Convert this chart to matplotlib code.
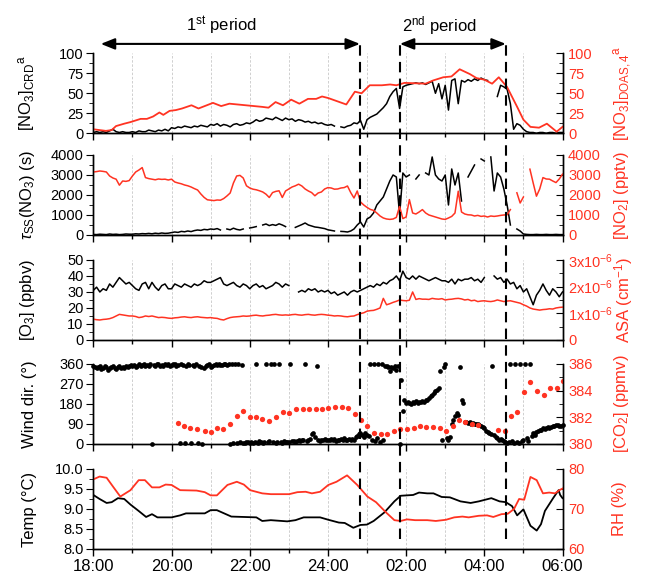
import numpy as np
import matplotlib
matplotlib.use('Agg')
import matplotlib.pyplot as plt
from matplotlib.ticker import MultipleLocator
from matplotlib.transforms import blended_transform_factory
from matplotlib.lines import Line2D

plt.rcParams['font.family'] = ['Liberation Sans', 'DejaVu Sans']
plt.rcParams['mathtext.fontset'] = 'custom'
plt.rcParams['mathtext.rm'] = 'Liberation Sans'
plt.rcParams['mathtext.it'] = 'Liberation Sans:italic'
plt.rcParams['axes.linewidth'] = 1.0

RED = '#ff3322'
nan = np.nan

# hours after 18:00, 5-min resolution series
no3_crd = [1, 2, 1, 2, 1, 3, 5, 2, 1, 2, 1, 1,
           2, 1, 3, 2, 2, 4, 3, 2, 4, 3, 5, 3,
           7, 6, 8, 7, 9, 8, 7, 9, 8, 10, 9, 8,
           11, 10, 12, 9, 11, 10, 8, 11, 12, 10, 11, 13,
           12, 14, 17, 15, 16, 19, 18, 17, 20, 18, 16, 19,
           17, 18, 15, 17, 16, 14, 15, 13, 14, 12, 13, 11,
           10, 11, 9, nan, 8, 7, 9, 10, 13, 12, 16, 5,
           17, 20, 22, 24, 28, 32, 37, 46, 52, 56, 31, 58,
           60, 61, 62, 63, 62, 63, 61, 63, 65, 50, 62, 43,
           60, 29, 66, 68, 37, 66, 64, 67, 65, 68, 66, 69,
           67, 66, nan, nan, 46, 60, 58, 55, 37, 5, 12, 10,
           5, 2, 1, 1, 0, 1, 1, 0, 1, 1, 0, 1, 1]

tau_no3 = [30, 20, 40, 30, 20, 50, 30, 40, 20, 30, 50, 40,
           40, 60, 50, 70, 60, 80, 60, 90, 70, 100, 80, 90,
           120, 150, 130, 180, 160, 200, 170, 220, 250, 230, 280, 260,
           300, 280, 320, 250, nan, 300, 260, 340, 280, 250, 300, nan,
           350, 380, 420, nan, 500, 550, 470, 520, 480, 560, 500, 420,
           nan, nan, 380, 450, 520, 600, 500, 450, 400, 380, 350, 320,
           260, 230, 200, nan, 180, 170, 150, 200, 300, 500, 650, 400,
           800, 900, 1100, 1500, 1700, 1900, 2300, 2700, 3000, 2900, 1000, 3100,
           2900, 3000, nan, 2800, 3000, nan, 3100, 3000, 3900, 3000, 2800, 2700,
           3000, 1500, 3300, 2500, 3100, 1700, nan, 2900, 3200, 3500, nan, 3800,
           3700, nan, 3900, 2200, 3100, 2900, 2300, 1500, 500, nan, 300, 200,
           50, 30, 20, 20, 30, 20, 20, 30, 20, 20, 30, 20, 20]

no2 = [3150, 3170, 3200, 3180, 3150, 2950, 2850, 2790, 2490, 2700, 2680, 2720,
       2950, 3150, 3250, 3370, 2870, 2820, 2790, 2760, 2800, 2780, 2790, 2750,
       2790, 2650, 2600, 2560, 2500, 2460, 2400, 2320, 2250, 2050, 1880, 1760,
       1740, 1720, 1750, 1740, 1820, 1950, 2100, 2600, 2950, 2980, 2850, 2460,
       2350, 2290, 2260, 2210, 2150, 2040, 1875, 2120, 2180, 2210, 1875, 2200,
       2300, 2400, 2460, 2540, 2450, 2300, 2200, 2120, 1960, 2100, 2150, 2300,
       2370, 2350, 2290, 2300, 2350, 2370, 2450, 2120, 1850, 2200, 1650, 1500,
       1380, 1280, 1230, 1100, 950, 850, 800, 780, 800, 880, 1430, 820,
       900, 1770, 1100, 1050, 1150, 1270, 1100, 1000, 950, 900, 850, 800,
       780, 850, 930, 1100, 2190, 1150, 1050, 1010, 1000, 950, 980, 930,
       950, 900, 950, 930, 950, 980, 1000, 1010, 1270, nan, 2110, 1600,
       1900, nan, 3290, 2600, 1940, 2300, 2870, 2800, 2790, 2700, 2620, 2800, 3040]

o3 = [31, 33, 30, 32, 31, 35, 33, 36, 39, 37, 35, 36,
      34, 32, 31, 35, 36, 32, 36, 33, 31, 34, 35, 32,
      32, 35, 34, 33, 35, 34, 33, 35, 34, 35, 37, 36,
      36, 37, 38, 39, 35, 34, 35, 36, 34, 33, 35, 34,
      32, 34, 35, 33, 34, 32, 33, 34, 36, 35, 33, 35,
      34, nan, nan, 30, 31, 30, 32, 31, 32, 30, 31, 30,
      31, 29, 30, 28, 29, 30, 28, 30, 31, 30, 31, 32,
      33, 34, 33, 35, 34, 36, 35, 37, 38, 40, 37, 43,
      39, 38, 40, 38, 40, 39, 38, 37, 38, 39, 38, 37,
      37, 36, 38, 35, 38, 37, 38, 38, 39, 37, 38, 36,
      39, nan, nan, 40, 38, 39, 36, 38, 35, 36, 32, 34,
      30, 32, 27, 22, 28, 31, 35, 31, 28, 32, 30, 27, 30]

# aerosol surface area, units of 1e-6 cm-1
asa = [0.78, 0.76, 0.75, 0.77, 0.78, 0.80, 0.84, 0.90, 0.96, 0.94, 0.92, 0.90,
       0.90, 0.88, 0.84, 0.86, 0.90, 0.88, 0.90, 0.87, 0.84, 0.85, 0.84, 0.82,
       0.81, 0.83, 0.84, 0.86, 0.87, 0.85, 0.84, 0.86, 0.87, 0.85, 0.84, 0.83,
       0.84, 0.82, 0.81, 0.77, 0.75, 0.80, 0.84, 0.86, 0.87, 0.88, 0.90, 0.89,
       0.90, 0.92, 0.93, 0.91, 0.90, 0.92, 0.93, 0.95, 0.96, 0.94, 0.93, 0.94,
       0.93, 0.95, 0.96, 0.94, 0.93, 0.95, 0.96, 0.94, 0.93, 0.95, 0.96, 0.95,
       0.93, 0.92, 0.90, 0.91, 0.90, 0.88, 0.87, 0.89, 0.90, 0.95, 0.99, 1.02,
       1.08, 1.10, 1.11, 1.15, 1.20, 1.56, 1.32, 1.36, 1.41, 1.45, 1.50, 1.48,
       1.47, 1.49, 1.80, 1.52, 1.55, 1.53, 1.53, 1.52, 1.56, 1.54, 1.53, 1.55,
       1.50, 1.52, 1.53, 1.55, 1.56, 1.54, 1.50, 1.52, 1.47, 1.49, 1.44, 1.46,
       1.47, 1.45, 1.44, 1.46, 1.50, 1.47, 1.44, 1.46, 1.47, 1.44, 1.41, 1.38,
       1.32, 1.27, 1.20, 1.16, 1.14, 1.12, 1.14, 1.15, 1.17, 1.16, 1.20, 1.22, 1.23]

# wind direction, 2.5-min resolution
wind_dir = [350, 345, 340, 348, 352, 338, 342, 350, 345, 335, 340, 347, 352, 343, 338, 345, 350, 342, 347, 340, 352, 345, 349, 355,
            350, 355, 348, 352, 358, 350, 355, 360, 352, 356, 350, 358, 0, 355, 352, 358, 360, 353, 356, 350, 358, 355, 360, 352,
            355, 358, 360, 352, 356, 5, 358, 355, 3, 352, 360, 356, 6, 355, 352, 358, 4, 350, 345, 2, 340, 350, 355, 358,
            348, 352, 356, 358, 355, 360, 357, 354, 358, 360, 356, 358, 2, 360, 5, 358, 3, 360, 8, 355, 6, 4, 10, 7,
            5, 8, 4, 10, 360, 6, 12, 8, 5, 10, 360, 7, 12, 358, 9, 360, 6, 11, 360, 8, 5, 12, 10, 7,
            10, 360, 12, 15, 9, 14, 18, 13, 20, 16, 360, 12, 18, 22, 45, 50, 30, 350, 18, 14, 20, 16, 22, 18,
            20, 16, 22, 18, 24, 15, 20, 17, 23, 19, 25, 18, 20, 22, 16, 24, 20, 30, 36, 45, 50, 40, 33, 48,
            41, 36, 360, 20, 360, 15, 26, 360, 11, 360, 18, 350, 352, 345, 330, 348, 340, 352, 335, 350, 2, 290, 150, 200,
            185, 190, 185, 180, 188, 185, 192, 183, 187, 190, 195, 190, 198, 200, 205, 216, 222, 230, 238, 245, 254, 330, 20, 345,
            360, 25, 18, 30, 90, 110, 125, 140, 130, 345, 200, 185, 100, 97, 95, 100, 92, 95, 90, 88, 92, 87, 80, 75,
            70, 60, 56, 50, 45, 352, 40, 30, 25, 20, 22, 18, 15, 10, 5, 8, 360, 12, 3, 360, 10, 6, 360, 15,
            20, 360, 26, 12, 360, 35, 48, 40, 56, 60, 65, 62, 70, 68, 72, 75, 70, 78, 82, 80, 85, 87, 83, 80, 85]

no3_doas_hours = [0.00, 0.32, 0.47, 0.58, 0.79, 0.95, 1.21, 1.37, 1.53, 1.69,
                  1.79, 1.95, 2.11, 2.27, 2.51, 2.69, 3.06, 3.27, 3.48, 3.90,
                  4.32, 4.48, 4.66, 4.85, 5.06, 5.27, 5.49, 5.70, 5.85, 6.01,
                  6.47, 6.69, 6.86, 7.07, 7.38, 7.59, 7.75, 7.96, 8.50, 8.69,
                  8.95, 9.16, 9.37, 9.63, 9.80, 10.00, 10.20, 10.37, 10.58, 10.84,
                  11.00, 11.18, 11.40, 11.60, 11.85, 12.00]
no3_doas = [5, 3, 4, 9, 12, 14, 18, 18, 21, 26,
            23, 28, 29, 31, 35, 31, 38, 34, 37, 35,
            33, 32, 39, 35, 42, 37, 43, 43, 46, 44,
            36, 52, 50, 60, 60, 61, 60, 63, 62, 66,
            70, 71, 80, 74, 69, 67, 62, 70, 58, 33,
            17, 8, 7, 12, 2, 8]

co2_hours = [2.16, 2.32, 2.48, 2.64, 2.85, 3.01, 3.16, 3.32, 3.50, 3.67,
             3.84, 4.01, 4.17, 4.32, 4.50, 4.67, 4.85, 5.01, 5.19, 5.36,
             5.52, 5.70, 5.85, 6.01, 6.18, 6.35, 6.52, 6.68, 6.85, 7.01,
             7.18, 7.35, 7.52, 7.68, 7.85, 8.02, 8.19, 8.35, 8.52, 8.69,
             8.86, 9.03, 9.19, 9.35, 9.51, 9.68, 9.85, 10.36, 10.52, 10.69,
             10.84, 11.01, 11.18, 11.35, 11.52, 11.69, 11.86, 12.00]
co2 = [381.56, 381.36, 381.23, 381.11, 381.01, 380.89, 381.19, 381.11, 381.48, 382.10,
       382.49, 382.05, 382.00, 381.85, 381.73, 382.00, 382.37, 382.30, 382.62, 382.62,
       382.62, 382.62, 382.62, 382.72, 382.81, 382.79, 382.72, 382.22, 381.80, 381.36,
       380.81, 380.74, 380.74, 381.01, 381.11, 381.15, 381.19, 381.35, 381.31, 381.26,
       381.23, 381.00, 381.38, 381.80, 381.68, 381.48, 381.40, 381.05, 381.00, 382.12,
       382.42, 383.90, 384.62, 384.00, 383.65, 384.18, 384.18, 384.75]

temp_hours = [0.00, 0.16, 0.34, 0.47, 0.63, 0.79, 0.95, 1.16, 1.35, 1.50,
              1.64, 2.00, 2.22, 2.37, 2.85, 3.00, 3.16, 3.53, 4.17, 4.32,
              4.54, 4.96, 5.17, 5.38, 5.80, 6.01, 6.28, 6.43, 6.65, 6.83,
              7.00, 7.17, 7.44, 7.70, 7.86, 8.02, 8.18, 8.33, 8.54, 8.70,
              8.91, 9.12, 9.39, 9.65, 9.86, 10.18, 10.39, 10.55, 10.71, 10.84,
              11.00, 11.18, 11.34, 11.45, 11.55, 11.76, 11.90, 11.94, 12.00]
temp = [9.35, 9.25, 9.15, 9.17, 9.27, 9.25, 9.11, 8.95, 8.80, 8.87,
        8.79, 8.79, 8.84, 8.89, 8.89, 8.97, 8.97, 8.81, 8.79, 8.70,
        8.72, 8.69, 8.72, 8.79, 8.79, 8.73, 8.66, 8.65, 8.53, 8.60,
        8.61, 8.70, 8.91, 9.19, 9.33, 9.34, 9.35, 9.41, 9.39, 9.39,
        9.30, 9.29, 9.19, 9.15, 9.19, 9.27, 9.19, 9.17, 9.07, 8.84,
        8.99, 8.58, 8.46, 8.62, 8.95, 9.27, 9.47, 9.35, 9.27]

rh_hours = [0.00, 0.16, 0.34, 0.51, 0.69, 0.95, 1.16, 1.32, 1.50, 1.69,
            1.85, 2.00, 2.22, 2.64, 2.85, 3.00, 3.16, 3.43, 3.67, 3.85,
            4.01, 4.32, 4.54, 5.01, 5.22, 5.43, 5.59, 5.80, 6.01, 6.22,
            6.49, 6.75, 7.01, 7.23, 7.49, 7.70, 7.86, 8.02, 8.23, 8.54,
            8.76, 9.02, 9.23, 9.44, 9.60, 9.86, 10.07, 10.23, 10.44, 10.60,
            10.76, 10.89, 11.02, 11.18, 11.34, 11.50, 11.66, 11.81, 11.92, 12.00]
rh = [77.4, 78.1, 77.8, 75.5, 73.1, 74.7, 77.2, 77.2, 75.4, 75.4,
      76.1, 76.0, 74.7, 74.6, 74.2, 73.4, 73.4, 76.0, 76.8, 76.1,
      74.7, 73.9, 73.7, 73.7, 74.2, 74.3, 73.9, 74.3, 76.0, 76.8,
      78.4, 76.0, 73.1, 71.7, 69.1, 67.2, 67.0, 67.4, 67.2, 67.2,
      67.0, 67.3, 67.9, 68.1, 67.9, 68.3, 68.4, 68.0, 68.7, 68.8,
      70.0, 72.5, 72.3, 78.0, 77.2, 73.9, 74.1, 73.9, 74.7, 75.1]

x_tick_labels = ['18:00', '20:00', '22:00', '24:00', '02:00', '04:00', '06:00']
period_marks = [6.82, 7.84, 10.55]   # 24:49, 01:50, 04:33

t5 = np.arange(len(no3_crd)) / 12.0
t_wind = np.arange(len(wind_dir)) / 24.0

fig = plt.figure(figsize=(6.45, 5.74), dpi=100)
left, width, height = 0.1447, 0.7274, 0.1394
bottoms = [0.7678, 0.5906, 0.4077, 0.2265, 0.0436]
pairs = []
for b in bottoms:
    ax = fig.add_axes([left, b, width, height])
    axr = ax.twinx()
    pairs.append((ax, axr))

for k, (ax, axr) in enumerate(pairs):
    ax.set_xlim(0, 12)
    ax.xaxis.set_major_locator(MultipleLocator(2))
    ax.xaxis.set_minor_locator(MultipleLocator(1))
    ax.xaxis.grid(True, which='both', color='#c8c8c8', lw=0.6, ls=(0, (3, 2)))
    for a in (ax, axr):
        a.spines['top'].set_visible(False)
    ax.tick_params(axis='x', which='major', direction='out', length=5, width=1)
    ax.tick_params(axis='x', which='minor', direction='out', length=3, width=1)
    ax.tick_params(axis='y', which='major', direction='out', length=5, labelsize=10.5, pad=2)
    ax.tick_params(axis='y', which='minor', direction='out', length=3)
    axr.tick_params(axis='y', which='major', direction='in', length=5, labelsize=10.5,
                    labelcolor=RED, pad=4)
    axr.tick_params(axis='y', which='minor', direction='in', length=3)
    if k < 4:
        ax.set_xticklabels([])
    else:
        ax.set_xticks(range(0, 13, 2), x_tick_labels)
        ax.tick_params(axis='x', labelsize=12, pad=2)
    ax.yaxis.set_label_coords(-0.12, 0.5)
    axr.yaxis.set_label_coords(1.105, 0.5)

# panel 1: NO3
ax, axr = pairs[0]
ax.plot(t5, no3_crd, color='k', lw=1.1)
axr.plot(no3_doas_hours, no3_doas, color=RED, lw=1.3)
for a in (ax, axr):
    a.set_ylim(0, 100)
    a.yaxis.set_major_locator(MultipleLocator(25))
    a.yaxis.set_minor_locator(MultipleLocator(12.5))
ax.set_ylabel(r'[NO$_3$]$_{\mathrm{CRD}}$$^{\mathrm{a}}$', fontsize=12)
axr.set_ylabel(r'[NO$_3$]$_{\mathrm{DOAS,4}}$$^{\mathrm{a}}$', fontsize=12, color=RED)

# period arrows and labels
for x0, x1, xt, txt in [(0.19, period_marks[0], 3.27, r'1$^{\mathrm{st}}$ period'),
                        (period_marks[1], period_marks[2], 8.86, r'2$^{\mathrm{nd}}$ period')]:
    ax.annotate('', xy=(x1, 111.7), xytext=(x0, 111.7), annotation_clip=False,
                arrowprops=dict(arrowstyle='<|-|>,head_length=0.7,head_width=0.28',
                                color='k', lw=1.5, shrinkA=0, shrinkB=0, mutation_scale=12))
    ax.text(xt, 135, txt, ha='center', va='center', fontsize=12, clip_on=False)

# panel 2: tau and NO2
ax, axr = pairs[1]
ax.plot(t5, tau_no3, color='k', lw=1.1)
axr.plot(t5, no2, color=RED, lw=1.1)
for a in (ax, axr):
    a.set_ylim(0, 4000)
    a.yaxis.set_major_locator(MultipleLocator(1000))
    a.yaxis.set_minor_locator(MultipleLocator(500))
ax.set_ylabel(r'$\tau_{\mathrm{SS}}$(NO$_3$) (s)', fontsize=12)
axr.set_ylabel(r'[NO$_2$] (pptv)', fontsize=12, color=RED)

# panel 3: O3 and ASA
ax, axr = pairs[2]
ax.plot(t5, o3, color='k', lw=1.1)
axr.plot(t5, np.array(asa) * 1e-6, color=RED, lw=1.1)
ax.set_ylim(0, 50)
ax.yaxis.set_major_locator(MultipleLocator(10))
ax.yaxis.set_minor_locator(MultipleLocator(5))
axr.set_ylim(0, 3e-6)
axr.set_yticks([0, 1e-6, 2e-6, 3e-6],
               ['0', r'1x10$^{-6}$', r'2x10$^{-6}$', r'3x10$^{-6}$'])
axr.yaxis.set_minor_locator(MultipleLocator(0.5e-6))
ax.set_ylabel(r'[O$_3$] (ppbv)', fontsize=12)
axr.set_ylabel(r'ASA (cm$^{-1}$)', fontsize=12, color=RED)

# panel 4: wind direction and CO2
ax, axr = pairs[3]
ax.plot(t_wind, wind_dir, 'o', color='k', ms=3.4, mew=0, clip_on=False)
axr.plot(co2_hours, co2, 'o', color=RED, ms=3.8, mew=0)
ax.set_ylim(0, 360)
ax.yaxis.set_major_locator(MultipleLocator(90))
ax.yaxis.set_minor_locator(MultipleLocator(45))
axr.set_ylim(380, 386)
axr.yaxis.set_major_locator(MultipleLocator(2))
axr.yaxis.set_minor_locator(MultipleLocator(1))
ax.set_ylabel('Wind dir. (°)', fontsize=12)
axr.set_ylabel(r'[CO$_2$] (ppmv)', fontsize=12, color=RED)

# panel 5: temperature and RH
ax, axr = pairs[4]
ax.plot(temp_hours, temp, color='k', lw=1.3)
axr.plot(rh_hours, rh, color=RED, lw=1.3)
ax.set_ylim(8, 10)
ax.yaxis.set_major_locator(MultipleLocator(0.5))
ax.yaxis.set_minor_locator(MultipleLocator(0.25))
ax.yaxis.set_major_formatter(plt.FormatStrFormatter('%.1f'))
axr.set_ylim(60, 80)
axr.yaxis.set_major_locator(MultipleLocator(10))
axr.yaxis.set_minor_locator(MultipleLocator(5))
ax.set_ylabel('Temp (°C)', fontsize=12)
axr.set_ylabel('RH (%)', fontsize=12, color=RED)

# dashed period boundaries through all panels
trans = blended_transform_factory(pairs[4][0].transData, fig.transFigure)
for xm in period_marks:
    fig.add_artist(Line2D([xm, xm], [0.061, 0.9246], transform=trans, color='k',
                          lw=1.5, ls=(0, (5, 3))))

fig.savefig('out.png', dpi=100)
